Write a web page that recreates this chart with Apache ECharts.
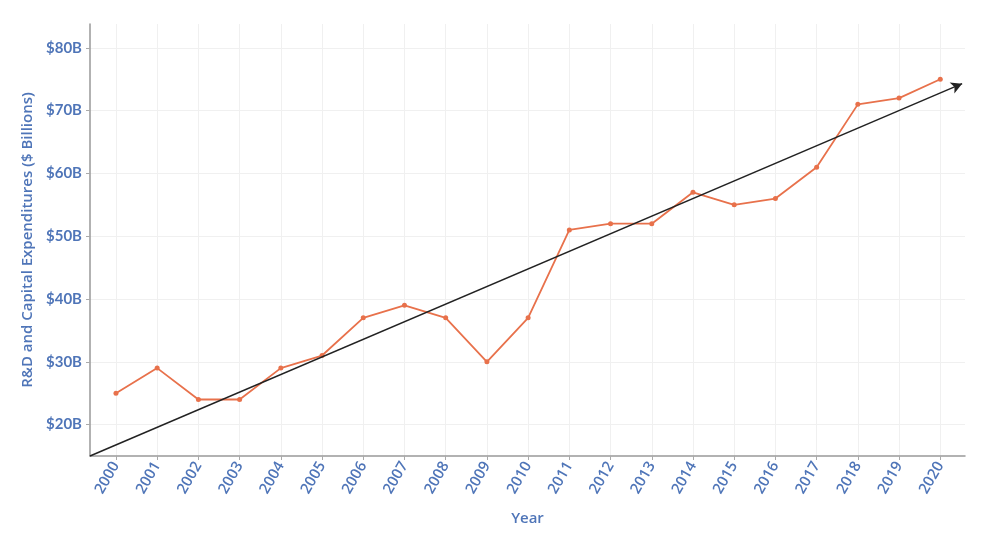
<!DOCTYPE html>
<html>
<head>
<meta charset="utf-8">
<script src="https://cdn.jsdelivr.net/npm/echarts@6/dist/echarts.min.js"></script>
<style>
  html, body { margin: 0; padding: 0; background: #fff; }
  #chart { width: 988px; height: 552px; }
</style>
</head>
<body>
<div id="chart"></div>
<script>
// data
const years = [2000, 2001, 2002, 2003, 2004, 2005, 2006, 2007, 2008, 2009, 2010,
  2011, 2012, 2013, 2014, 2015, 2016, 2017, 2018, 2019, 2020];
const spending = [25, 29, 24, 24, 29, 31, 37, 39, 37, 30, 37,
  51, 52, 52, 57, 55, 56, 61, 71, 72, 75];
const yTicks = [20, 30, 40, 50, 60, 70, 80];
// trend arrow, start and end (year, $B)
const trendStart = [1999.37, 15];
const trendEnd = [2020.53, 74.3];

const blue = '#4f75b8';
const orange = '#e8714b';

const chart_j = document.getElementById('chart');
const myChart = echarts.init(chart_j);

let option = {
  animation: false,
  grid: { left: 90, right: 23, top: 24, bottom: 96 },
  xAxis: {
    type: 'value',
    min: 1999.37,
    max: 2020.6,
    name: 'Year',
    nameLocation: 'middle',
    nameGap: 55,
    nameTextStyle: { color: blue, fontSize: 15, fontFamily: 'Open Sans', fontWeight: 600 },
    axisLine: { lineStyle: { color: '#999', width: 1.5 } },
    axisTick: { show: true, length: 4, customValues: years, lineStyle: { color: '#aaa' } },
    axisLabel: {
      rotate: 60,
      color: blue,
      fontSize: 15,
      fontFamily: 'Open Sans',
      fontWeight: 600,
      margin: 7,
      customValues: years,
      formatter: (v) => String(Math.round(v))
    },
    splitLine: { show: true, lineStyle: { color: '#f0f0f0' } }
  },
  yAxis: {
    type: 'value',
    min: 15,
    max: 83.8,
    name: 'R&D and Capital Expenditures ($ Billions)',
    nameLocation: 'middle',
    nameGap: 52,
    nameTextStyle: { color: blue, fontSize: 15, fontFamily: 'Open Sans', fontWeight: 600 },
    axisLine: { show: true, lineStyle: { color: '#999', width: 1.5 } },
    axisTick: { show: true, length: 4, customValues: yTicks, lineStyle: { color: '#aaa' } },
    axisLabel: {
      color: blue,
      fontSize: 15,
      fontFamily: 'Lato',
      fontWeight: 'bold',
      margin: 8,
      customValues: yTicks,
      formatter: (v) => '$' + v + 'B'
    },
    splitLine: { show: true, lineStyle: { color: '#f0f0f0' } }
  },
  series: [
    {
      type: 'line',
      data: years.map((y, i) => [y, spending[i]]),
      symbol: 'circle',
      symbolSize: 5,
      itemStyle: { color: orange },
      lineStyle: { color: orange, width: 1.8 },
      z: 3,
      markLine: {
        silent: true,
        symbol: ['none', 'arrow'],
        symbolSize: [9, 11],
        label: { show: false },
        lineStyle: { color: '#222', width: 1.5, type: 'solid' },
        data: [[{ coord: trendStart }, { coord: trendEnd }]]
      }
    }
  ]
};
myChart.setOption(option);
</script>
</body>
</html>
